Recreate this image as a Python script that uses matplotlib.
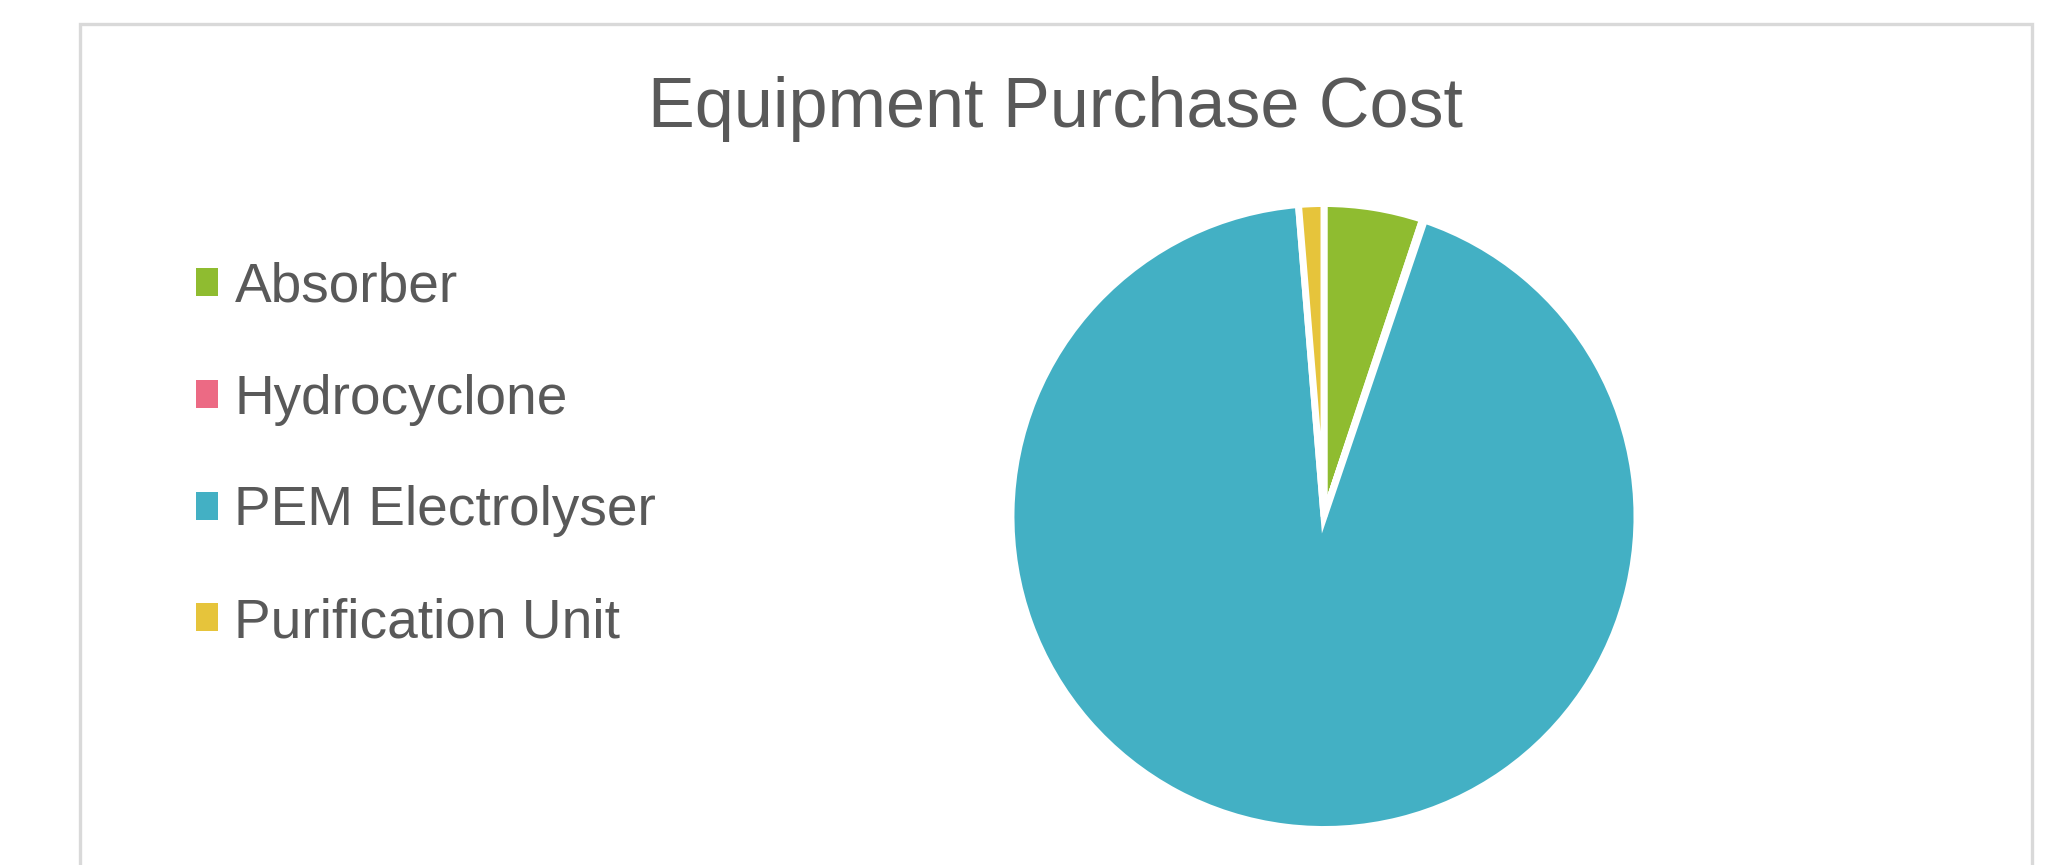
import matplotlib
matplotlib.use("Agg")
import matplotlib.pyplot as plt
from matplotlib.patches import Rectangle, Patch

categories = ["Absorber", "Hydrocyclone", "PEM Electrolyser", "Purification Unit"]
values = [5.1, 0.1, 93.5, 1.3]
colors = ["#8FBC30", "#EC6A84", "#43B0C4", "#E6C43B"]
title = "Equipment Purchase Cost"
text_color = "#595959"

plt.rcParams['font.family'] = ['Liberation Sans', 'DejaVu Sans']

W, H = 2066, 865
fig = plt.figure(figsize=(W / 100, H / 100), dpi=100)
fig.patch.set_facecolor("white")

# outer chart border (bottom edge lies beyond the image)
fig.patches.append(Rectangle((80 / W, -0.2), (2032 - 80) / W, 1.2 - 24 / H,
                             transform=fig.transFigure, fill=False,
                             edgecolor="#D9D9D9", linewidth=2.4, zorder=0))

cx, cy, r = 1324, 865 - 516.5, 313
ax = fig.add_axes([(cx - r) / W, (cy - r) / H, 2 * r / W, 2 * r / H])
ax.pie(values, colors=colors, startangle=90, counterclock=False, radius=1.0,
       wedgeprops=dict(edgecolor="white", linewidth=5))
ax.set_xlim(-1, 1)
ax.set_ylim(-1, 1)
ax.set_aspect("equal")
ax.axis("off")

fig.text(1056 / W, 1 - 127 / H, title, ha="center", va="baseline",
         fontsize=50.5, color=text_color)

handles = [Patch(facecolor=c, edgecolor="none") for c in colors]
leg = fig.legend(handles, categories, loc="center left",
                 bbox_to_anchor=(196 / W, 1 - 455.5 / H), frameon=False,
                 fontsize=39.6, labelcolor=text_color, borderpad=0, borderaxespad=0,
                 handlelength=0.4, handleheight=0.4, handletextpad=0.3,
                 labelspacing=1.085)

fig.savefig("out.png", dpi=100)
